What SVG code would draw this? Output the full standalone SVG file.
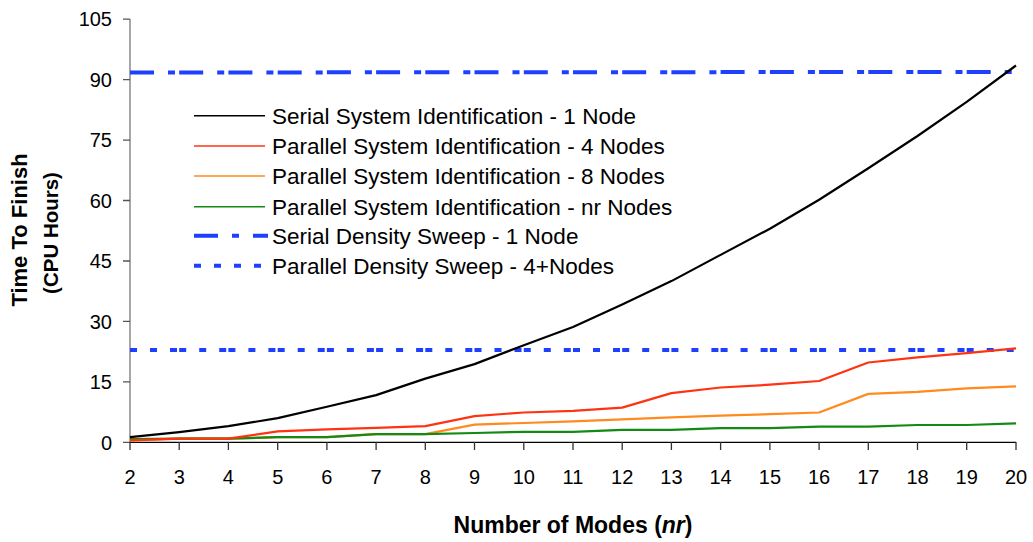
<svg xmlns="http://www.w3.org/2000/svg" width="1033" height="542" viewBox="0 0 1033 542">
<style>
text{font-family:"Liberation Sans",Arial,sans-serif;fill:#000}
.yl{font-size:20px;text-anchor:end}
.xl{font-size:20px;text-anchor:middle}
.lg{font-size:22.5px}
.ttl{font-weight:bold}
.ax{stroke:#000;stroke-width:1.3;fill:none}
.ser{fill:none;stroke-width:2.2;stroke-linejoin:round}
.leg{fill:none;stroke-width:1.6}
.sds{fill:none;stroke:#1f3fff;stroke-width:4;stroke-dasharray:24 14 7 14}
.pds{fill:none;stroke:#1f3fff;stroke-width:4;stroke-dasharray:7 13}
</style>
<rect width="1033" height="542" fill="#fff"/>
<g id="axes">
<path class="ax" style="stroke:#777" d="M130 19V442.3"/>
<path class="ax" d="M130 442.3H1016"/>
<path class="ax" style="stroke:#555" d="M123 442.3H130M123 381.9H130M123 321.4H130M123 261H130M123 200.5H130M123 140.1H130M123 79.6H130M123 19.2H130"/>
<path class="ax" style="stroke:#333" d="M130 442V450M179.2 442V450M228.4 442V450M277.7 442V450M326.9 442V450M376.1 442V450M425.3 442V450M474.5 442V450M523.8 442V450M573 442V450M622.2 442V450M671.4 442V450M720.6 442V450M769.9 442V450M819.1 442V450M868.3 442V450M917.5 442V450M966.7 442V450M1016 442V450"/>
</g>
<g id="y-labels">
<text class="yl" x="112" y="449.5">0</text>
<text class="yl" x="112" y="389.1">15</text>
<text class="yl" x="112" y="328.6">30</text>
<text class="yl" x="112" y="268.2">45</text>
<text class="yl" x="112" y="207.7">60</text>
<text class="yl" x="112" y="147.3">75</text>
<text class="yl" x="112" y="86.8">90</text>
<text class="yl" x="112" y="26.4">105</text>
</g>
<g id="x-labels">
<text class="xl" x="130" y="484">2</text>
<text class="xl" x="179.2" y="484">3</text>
<text class="xl" x="228.4" y="484">4</text>
<text class="xl" x="277.7" y="484">5</text>
<text class="xl" x="326.9" y="484">6</text>
<text class="xl" x="376.1" y="484">7</text>
<text class="xl" x="425.3" y="484">8</text>
<text class="xl" x="474.5" y="484">9</text>
<text class="xl" x="523.8" y="484">10</text>
<text class="xl" x="573" y="484">11</text>
<text class="xl" x="622.2" y="484">12</text>
<text class="xl" x="671.4" y="484">13</text>
<text class="xl" x="720.6" y="484">14</text>
<text class="xl" x="769.9" y="484">15</text>
<text class="xl" x="819.1" y="484">16</text>
<text class="xl" x="868.3" y="484">17</text>
<text class="xl" x="917.5" y="484">18</text>
<text class="xl" x="966.7" y="484">19</text>
<text class="xl" x="1016" y="484">20</text>
</g>
<g id="axis-titles">
<text class="ttl" x="573" y="533" text-anchor="middle" font-size="23">Number of Modes (<tspan font-style="italic">nr</tspan>)</text>
<text class="ttl" transform="translate(27 230) rotate(-90)" text-anchor="middle" font-size="22">Time To Finish</text>
<text class="ttl" transform="translate(58 233) rotate(-90)" text-anchor="middle" font-size="20.5">(CPU Hours)</text>
</g>
<g id="connectors">
<path id="serial-density" class="sds" d="M130 72.5H179.2M179.2 72.5H228.4M228.4 72.4H277.7M277.7 72.4H326.9M326.9 72.3H376.1M376.1 72.3H425.3M425.3 72.3H474.5M474.5 72.3H523.8M523.8 72.2H573M573 72.2H622.2M622.2 72.2H671.4M671.4 72.2H720.6M720.6 72.1H769.9M769.9 72.1H819.1M819.1 72H868.3M868.3 72H917.5M917.5 72H966.7M966.7 72H1016"/>
<path id="parallel-density" class="pds" d="M130 350H179.2M179.2 350H228.4M228.4 350H277.7M277.7 350H326.9M326.9 350H376.1M376.1 350H425.3M425.3 350H474.5M474.5 350H523.8M523.8 350H573M573 350H622.2M622.2 350H671.4M671.4 350H720.6M720.6 350H769.9M769.9 350H819.1M819.1 350H868.3M868.3 350H917.5M917.5 350H966.7M966.7 350H1016"/>
<polyline id="orange-8" class="ser" stroke="#ff8a1e" points="130,440.3 179.2,438.7 228.4,438.7 277.7,437.1 326.9,437.1 376.1,434.2 425.3,434.2 474.5,424.6 523.8,423 573,421.3 622.2,419.3 671.4,417.3 720.6,415.7 769.9,414.1 819.1,412.5 868.3,393.9 917.5,391.9 966.7,388.3 1016,386.3"/>
<polyline id="green-nr" class="ser" stroke="#138a13" points="130,439.1 179.2,438.7 228.4,438.7 277.7,437.1 326.9,437.1 376.1,434.2 425.3,434.2 474.5,433 523.8,431.8 573,431.8 622.2,429.8 671.4,429.8 720.6,428.2 769.9,428.2 819.1,426.6 868.3,426.6 917.5,425 966.7,425 1016,423.4"/>
<polyline id="red-4" class="ser" stroke="#ff3311" points="130,440.3 179.2,438.7 228.4,438.7 277.7,431.4 326.9,429.4 376.1,427.8 425.3,426.2 474.5,416.1 523.8,412.5 573,410.9 622.2,407.6 671.4,393.1 720.6,387.5 769.9,384.7 819.1,381 868.3,362.5 917.5,357.3 966.7,353.2 1016,348.4"/>
<polyline id="black-serial" class="ser" stroke="#000" points="130,437.1 179.2,432.2 228.4,426.2 277.7,418.1 326.9,406.8 376.1,395.1 425.3,378.6 474.5,364.1 523.8,345.2 573,327 622.2,304.5 671.4,281.1 720.6,254.9 769.9,228.7 819.1,199.7 868.3,168.3 917.5,136 966.7,101.8 1016,65.5"/>
</g>
<g id="legend">
<g id="leg-1"><path class="leg" stroke="#000" d="M194 115.7H265"/><text class="lg" x="272" y="123.7">Serial System Identification - 1 Node</text></g>
<g id="leg-2"><path class="leg" stroke="#ff3311" d="M194 146H265"/><text class="lg" x="272" y="154">Parallel System Identification - 4 Nodes</text></g>
<g id="leg-3"><path class="leg" stroke="#ff8a1e" d="M194 176H265"/><text class="lg" x="272" y="184">Parallel System Identification - 8 Nodes</text></g>
<g id="leg-4"><path class="leg" stroke="#138a13" d="M194 206.7H265"/><text class="lg" x="272" y="214.7">Parallel System Identification - nr Nodes</text></g>
<g id="leg-5"><path class="sds" d="M194 235.7H268"/><text class="lg" x="272" y="243.7">Serial Density Sweep - 1 Node</text></g>
<g id="leg-6"><path class="pds" d="M194 265.7H268"/><text class="lg" x="272" y="273.7">Parallel Density Sweep - 4+Nodes</text></g>
</g>
</svg>
